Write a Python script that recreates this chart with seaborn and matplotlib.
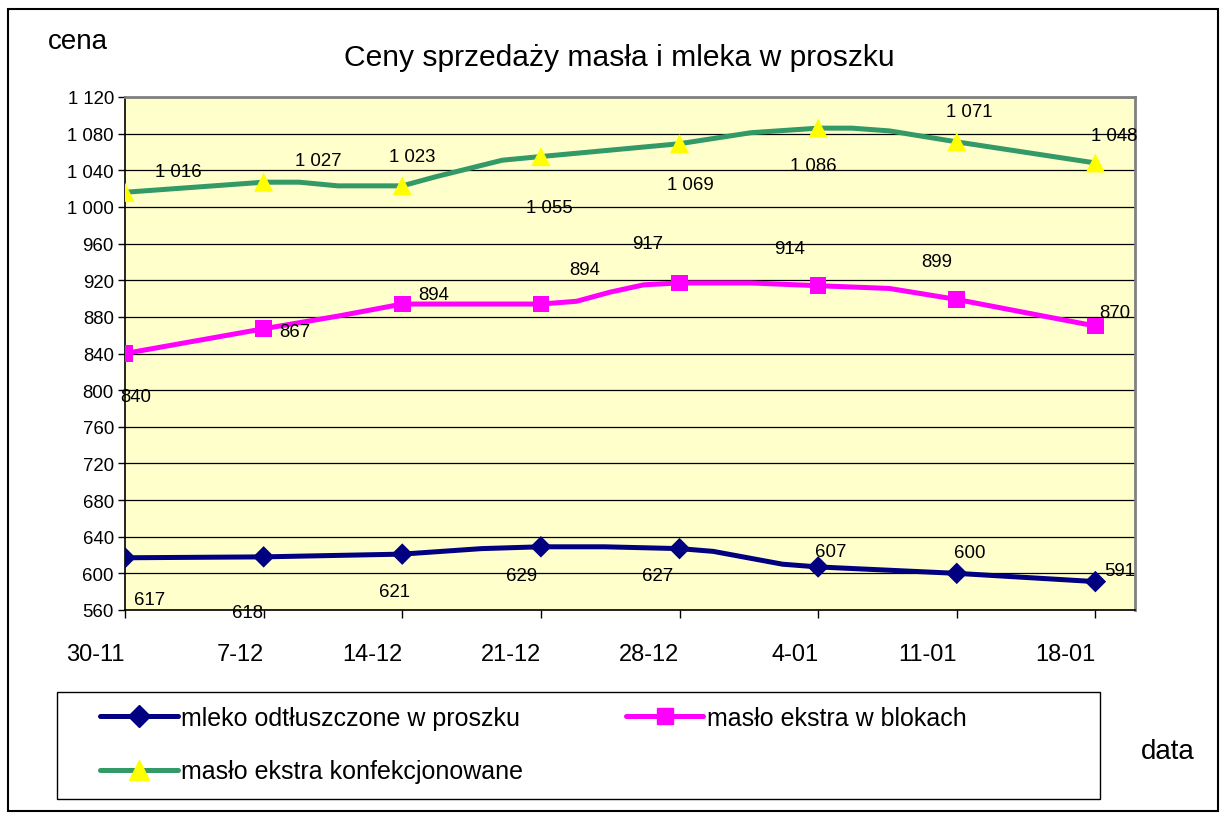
import numpy as np
import pandas as pd
import matplotlib
matplotlib.use("Agg")
import matplotlib.pyplot as plt
import matplotlib.transforms as mtransforms
from matplotlib.lines import Line2D
from matplotlib.patches import Rectangle
import seaborn as sns

# weekly points (markers + labels)
dates = ["30-11", "7-12", "14-12", "21-12", "28-12", "4-01", "11-01", "18-01"]
mleko = [617, 618, 621, 629, 627, 607, 600, 591]
maslo_bloki = [840, 867, 894, 894, 917, 914, 899, 870]
maslo_konf = [1016, 1027, 1023, 1055, 1069, 1086, 1071, 1048]

# line vertices (days after 30-11, value)
mleko_path_day = [0, 7, 14, 18.0, 21, 24.2, 28, 29.7, 33.2, 35, 42, 49]
mleko_path_val = [617, 618, 621, 627, 629, 629, 627, 624, 610, 607, 600, 591]
bloki_path_day = [0, 7, 10.8, 14, 21, 22.8, 24.5, 26.2, 28, 31.6, 35, 38.6, 42, 49]
bloki_path_val = [840, 867, 881, 894, 894, 897, 907, 915, 917, 917, 914, 911, 899, 870]
konf_path_day = [0, 7, 8.8, 10.75, 14, 15.7, 19.05, 21, 28, 31.6, 35, 36.7, 38.6, 42, 49]
konf_path_val = [1016, 1027, 1027, 1023, 1023, 1033, 1051, 1055, 1069, 1081, 1086, 1086, 1083, 1071, 1048]

series_names = ["mleko odtłuszczone w proszku", "masło ekstra w blokach",
                "masło ekstra konfekcjonowane"]

# label offsets in pixels (dx right, dy down) - just placement
off_mleko = [(25, 42), (-16, 56), (-8, 37), (-19, 29), (-22, 27), (13, -15), (13, -21), (24, -11)]
off_bloki = [(11, 43), (31, 3), (31, -10), (44, -35), (-32, -39), (-29, -37), (-20, -38), (19, -14)]
off_konf = [(53, -21), (55, -22), (10, -29), (8, 51), (11, 41), (-5, 37), (12, -30), (19, -27)]

sns.set_theme(style="white")
plt.rcParams['font.family'] = ['Liberation Sans', 'DejaVu Sans']
plt.rcParams['text.color'] = 'black'
plt.rcParams['xtick.color'] = 'black'
plt.rcParams['ytick.color'] = 'black'
plt.rcParams['axes.labelcolor'] = 'black'

W, H = 1226, 820
fig = plt.figure(figsize=(W / 100, H / 100), dpi=100)
fig.patch.set_facecolor("white")

def fx(px):
    return px / W

def fy(py):
    return 1 - py / H

ax = fig.add_axes([fx(125), fy(611), fx(1135) - fx(125), fy(98) - fy(611)])
ax.set_facecolor("#FFFFCC")

days = np.arange(len(dates)) * 7
weekly = pd.DataFrame({"day": days, "mleko": mleko, "bloki": maslo_bloki, "konf": maslo_konf})

styles = {
    "mleko": dict(color="#000080", marker="D", mfc="#000080", ms=120, path=(mleko_path_day, mleko_path_val), off=off_mleko),
    "bloki": dict(color="#FF00FF", marker="s", mfc="#FF00FF", ms=145, path=(bloki_path_day, bloki_path_val), off=off_bloki),
    "konf": dict(color="#339966", marker="^", mfc="#FFFF00", ms=190, path=(konf_path_day, konf_path_val), off=off_konf),
}

for key, st in styles.items():
    pdf = pd.DataFrame({"day": st["path"][0], "val": st["path"][1]})
    sns.lineplot(data=pdf, x="day", y="val", ax=ax, color=st["color"], linewidth=3.6,
                 sort=False, estimator=None, zorder=3)
    sns.scatterplot(data=weekly, x="day", y=key, ax=ax, marker=st["marker"], s=st["ms"],
                    color=st["mfc"], edgecolor="none", linewidth=0, zorder=4)
    for d, v, (dx, dy) in zip(weekly["day"], weekly[key], st["off"]):
        ax.annotate(f"{v:,}".replace(",", " "), (d, v), xytext=(dx, -dy),
                    textcoords="offset pixels", ha="center", va="center",
                    fontsize=13.4, color="black", zorder=5)

ax.set_xlim(0, 51)
ax.set_ylim(560, 1120)
ax.set_yticks(np.arange(560, 1121, 40))
ax.set_yticklabels([f"{t:,}".replace(",", " ") for t in np.arange(560, 1121, 40)])
ax.set_xticks(days)
ax.set_xticklabels(dates, ha="right")
shift = mtransforms.ScaledTranslation(-0.06, 0, fig.dpi_scale_trans)
for lab in ax.get_xticklabels():
    lab.set_transform(lab.get_transform() + shift)
ax.set_xlabel("")
ax.set_ylabel("")
ax.yaxis.grid(True, color="black", linewidth=0.9)
ax.xaxis.grid(False)
ax.set_axisbelow(True)
ax.tick_params(axis="y", direction="out", length=5, width=1, color="black",
               labelsize=13.4, pad=3, left=True)
ax.tick_params(axis="x", direction="out", length=6, width=1, color="black",
               labelsize=17, pad=18, bottom=True)
for side in ["top", "right"]:
    ax.spines[side].set_color("#808080")
    ax.spines[side].set_linewidth(2)
for side in ["left", "bottom"]:
    ax.spines[side].set_color("black")
    ax.spines[side].set_linewidth(1.2)

fig.text(fx(619), fy(58), "Ceny sprzedaży masła i mleka w proszku", ha="center", va="center",
         fontsize=21.6)
fig.text(fx(78), fy(42), "cena", ha="center", va="center", fontsize=20)
fig.text(fx(1168), fy(752), "data", ha="center", va="center", fontsize=20)

# legend
handles = []
for key in ["mleko", "bloki", "konf"]:
    st = styles[key]
    handles.append(Line2D([0], [0], color=st["color"], linewidth=3.6, marker=st["marker"],
                          markerfacecolor=st["mfc"], markeredgecolor=st["mfc"],
                          markersize=np.sqrt(st["ms"])))
order = [0, 2, 1]
fig.legend([handles[i] for i in order], [series_names[i] for i in order], ncol=2,
           loc="upper left", bbox_to_anchor=(fx(100), fy(707)), frameon=False,
           fontsize=18, handlelength=3.1, handletextpad=0.15, columnspacing=4.1,
           labelspacing=1.17, borderpad=0, borderaxespad=0)
fig.add_artist(Rectangle((fx(57), fy(800)), fx(1100) - fx(57), fy(693) - fy(800),
                         transform=fig.transFigure, fill=False, edgecolor="black", linewidth=1))
fig.add_artist(Rectangle((fx(8), fy(812)), fx(1218) - fx(8), fy(10) - fy(812),
                         transform=fig.transFigure, fill=False, edgecolor="black", linewidth=1.5))

fig.savefig("out.png", dpi=100)
